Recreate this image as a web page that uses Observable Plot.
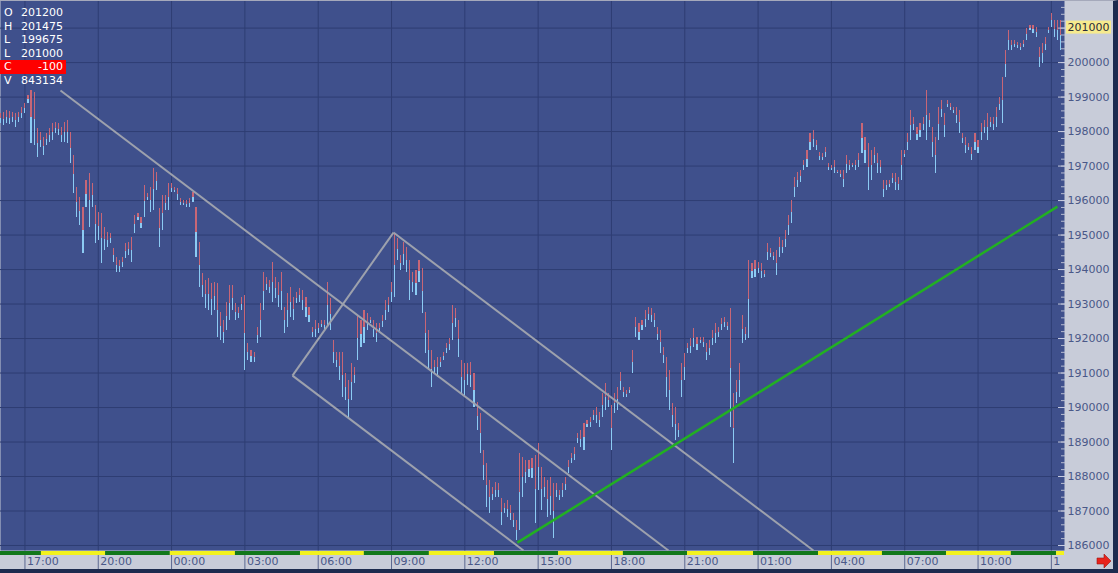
<!DOCTYPE html>
<html><head><meta charset="utf-8">
<script src="https://cdn.jsdelivr.net/npm/d3@7"></script>
<script src="https://cdn.jsdelivr.net/npm/@observablehq/plot@0.6"></script>
<style>
html,body{margin:0;padding:0;background:#1c2a4e;}
#wrap{position:relative;width:1118px;height:573px;background:#c8ccd9;overflow:hidden;font-family:"DejaVu Sans",sans-serif;}
#chart svg{display:block;}
#legend{position:absolute;left:0;top:6px;width:66px;color:#fff;font-size:11px;}
.row{position:relative;height:13.5px;line-height:13.5px;}
.row .k{position:absolute;left:4px;}
.row .v{position:absolute;right:3px;}
.row.red{background:#ff0000;}
#border{position:absolute;left:0;top:0;width:1118px;height:573px;box-sizing:border-box;border-top:1px solid #a5a9bb;border-right:5px solid #1d2b4f;border-bottom:4px solid #1d2b4f;pointer-events:none;}
</style></head>
<body>
<div id="wrap"><div id="chart"></div><div id="legend"></div><div id="border"></div></div>
<script>
// ---- data ----
const hi = [198523,198552,198610,198581,198552,198523,198552,198697,198813,199045,199190,199132,198088,197972,197827,197943,198088,198233,198262,198233,198117,198262,198320,197972,197305,196377,196087,195797,196580,196783,196493,195855,195652,195623,195217,195072,195043,194608,194347,194260,194347,194753,194782,194927,195565,195623,195507,196435,196203,196377,196928,196812,195768,196145,196145,196493,196493,196377,196348,196058,196000,196000,196058,196232,195797,194782,193883,193680,193738,193593,193622,193593,192752,192520,193042,193535,193535,193013,192897,193187,193245,191853,191650,191592,192317,193013,193912,193767,193680,194202,193767,193622,193912,192897,193303,193477,193187,193332,193448,193390,193187,192897,192317,192520,192433,192520,192520,193622,193158,191940,191592,191592,191592,190983,190780,191273,191157,192665,192520,192810,192723,192607,192520,192433,192433,192665,193100,193187,193622,195043,194898,194405,194782,194637,194260,193912,193970,194260,194028,192752,192230,191650,191360,191447,191447,191592,191853,191998,192955,192868,192520,191360,191273,191273,191302,190983,190142,189823,188750,188373,187880,187677,187822,187793,187358,187213,187300,187155,186923,186720,188663,188547,188460,188460,188518,188605,188953,188257,187967,187880,187967,187793,187793,187590,187793,187967,188460,188663,188837,189243,189330,189533,189620,189707,189910,189997,189852,190403,190693,190403,190055,190403,190577,191012,190577,190490,190577,191650,192607,192433,192520,192810,192897,192868,192723,192317,192230,191737,191447,191070,190113,189997,189533,191273,191563,191853,191998,192288,192027,192027,192027,191853,191940,192230,192433,192317,192578,192607,192462,192868,190403,190780,191273,192665,192317,194260,194173,194260,194202,194173,193970,194753,194608,194492,194550,194927,194840,195130,195565,196000,196667,196812,196870,197160,197450,197943,198030,197740,197392,197363,197537,197073,197015,197160,196870,196870,196870,197305,197160,197073,197160,197363,198233,197827,197653,197450,197537,197363,197160,196580,196580,196580,196783,196783,196667,197450,197450,197943,198610,198407,198117,198233,198407,199190,198523,198117,197827,198697,198900,198523,198900,198813,198697,198697,198610,197943,197827,197653,197537,197943,197740,198233,198320,198523,198407,198407,198697,198987,199567,200350,200930,200640,200640,200582,200553,200640,200988,201075,201075,201017,200437,200553,200727,201017,201423,201220,201220,201220];
const lo = [198233,198175,198233,198204,198262,198117,198262,198378,198523,198813,197653,197595,197247,197537,197305,197595,197682,197740,197943,197885,197682,197682,197653,197073,196203,195507,195275,194463,195797,195217,195797,194753,194840,194173,194550,194637,194753,194202,193912,193912,194057,194318,194405,194202,195043,195420,195188,195507,196000,195652,195710,196290,194637,195130,195710,195710,196232,196232,196000,195855,195855,195797,195797,195942,194347,193477,193187,192868,192810,192665,192810,192027,191940,191853,192230,192520,192810,192520,192578,192810,191070,191360,191302,191302,191853,192027,192810,193390,193303,193042,193158,192897,192810,192143,192317,192607,192520,193013,193042,192810,192607,192462,192027,192027,192143,192317,192230,192317,192230,191273,191157,190780,190287,190200,189707,190200,190693,191360,191737,191853,192230,192433,192027,191882,192143,192317,192520,192752,193042,193187,194260,193970,194115,193912,193100,193332,193245,193622,192723,191563,191070,190577,190983,190867,191157,191360,191563,191650,191940,192317,191447,190403,190287,190635,190577,189997,189330,188663,187880,187097,186923,187300,187387,187387,186575,186923,186807,186720,186517,186140,186430,187387,187793,187967,187938,186633,187590,187010,187387,186807,186865,186198,187387,187300,187387,187590,188083,188373,188460,188953,188837,188750,189417,189417,189620,189533,189417,189707,189910,189997,188750,189823,189910,190490,190287,190287,190403,190983,192027,191940,192230,192317,192520,192462,192317,191940,191563,191273,190287,189910,189417,189040,189127,190287,190780,191563,191563,191737,191650,191853,191737,191360,191505,191795,191853,192027,192230,192317,192230,189417,188373,190113,190287,191853,191940,191998,193738,193767,193883,193738,193767,194260,194347,194260,193825,194347,194463,194637,194985,195333,196087,196377,196522,196870,196957,197450,197537,197450,197160,197160,197247,196870,196870,196783,196783,196667,196377,196783,196870,196957,196870,196957,197363,197073,196290,196580,197073,196783,196783,196087,196290,196377,196493,196290,196290,196580,197247,197450,197740,198030,197740,197827,198030,197740,198117,197247,196783,197740,198407,197827,198697,198610,198523,198233,197943,197653,197363,197450,197160,197450,197363,197740,197943,197740,198117,198030,198117,198610,198233,199567,200350,200350,200437,200408,200350,200437,200640,200930,200843,200727,199857,199973,200350,200843,201017,200727,200640,200350];

const tickIdx = [8,32,56,80,104,128,152,176,200,224,248,272,296,320,344];
const tickLabels = ["17:00","20:00","00:00","03:00","06:00","09:00","12:00","15:00","18:00","21:00","01:00","04:00","07:00","10:00","1"];
const yTicks = d3.range(186000, 201001, 1000);
const yMinor = d3.range(186000, 201801, 200);
const sessionEdges = [0,13.4,34.4,55.6,76.9,98.2,119.1,140.4,161.7,182.7,203.9,224.9,246.5,267.8,288.7,309.7,330.9,345.7,348.3];
const lastPrice = 201000;
const legendKeys = ["O","H","L","L","C","V"];
const legendVals = ["201200","201475","199675","201000","-100","843134"];

// channel drawing-tool lines (bar index, price)
const channelX1 = [19.64, 128.64, 95.58, 95.58];
const channelY1 = [199190, 195072, 190925, 190925];
const channelX2 = [218.66, 266.1, 171.2, 128.64];
const channelY2 = [185855, 185855, 185855, 195072];
const trendX = [169.2, 346.0];
const trendY = [186082, 195826];

// ---- build ----
const bars = hi.map((h, i) => ({i, hi: h, lo: lo[i], mid: (h + lo[i]) / 2}));
const channels = channelX1.map((x, k) => ({x1: x, y1: channelY1[k], x2: channelX2[k], y2: channelY2[k]}));
const trend = [{x1: trendX[0], y1: trendY[0], x2: trendX[1], y2: trendY[1]}];
const labelOf = new Map(tickIdx.map((d, k) => [d, tickLabels[k]]));
const yLabelTicks = yTicks.filter(d => d !== lastPrice);
const ns = "http://www.w3.org/2000/svg";

const sessionBar = (index, scales, values, dims) => {
  const g = document.createElementNS(ns, "g");
  const y0 = dims.height - dims.marginBottom;
  for (let k = 0; k < sessionEdges.length - 1; k++) {
    const r = document.createElementNS(ns, "rect");
    const a = scales.x(sessionEdges[k]), b = scales.x(sessionEdges[k + 1]);
    r.setAttribute("x", a); r.setAttribute("width", b - a);
    r.setAttribute("y", y0 + 1); r.setAttribute("height", 4);
    r.setAttribute("fill", k % 2 ? "#f2f21e" : "#12781b");
    g.appendChild(r);
  }
  return g;
};
const priceMarker = (index, scales, values, dims) => {
  const g = document.createElementNS(ns, "g");
  const yy = scales.y(lastPrice);
  const x0 = dims.width - dims.marginRight + 2;
  const r = document.createElementNS(ns, "rect");
  r.setAttribute("x", x0); r.setAttribute("y", yy - 7); r.setAttribute("width", 45); r.setAttribute("height", 13);
  r.setAttribute("fill", "#f6ea8e");
  const t = document.createElementNS(ns, "text");
  t.setAttribute("x", x0 + 1.5); t.setAttribute("y", yy); t.setAttribute("dy", "0.35em");
  t.setAttribute("text-anchor", "start");
  t.setAttribute("font-size", 11); t.setAttribute("fill", "#2b2b38");
  t.textContent = String(lastPrice);
  g.appendChild(r); g.appendChild(t);
  return g;
};
const arrow = (index, scales, values, dims) => {
  const p = document.createElementNS(ns, "path");
  const x = dims.width - 21, y = dims.height - 12;
  p.setAttribute("d", `M${x},${y-3}h7v-4l7,7l-7,7v-4h-7z`);
  p.setAttribute("fill", "#e8231c"); p.setAttribute("stroke", "#9a1410"); p.setAttribute("stroke-width", 0.6);
  return p;
};

const chart = Plot.plot({
  width: 1118, height: 573,
  marginLeft: 0, marginRight: 54, marginTop: 0, marginBottom: 23,
  style: {fontFamily: "DejaVu Sans", fontSize: "11px", background: "transparent", overflow: "visible"},
  x: {domain: [0, 348.3], label: null},
  y: {domain: [185855, 201800], label: null},
  marks: [
    Plot.frame({fill: "#3f508c", stroke: "none"}),
    Plot.gridY(yTicks, {stroke: "#2e3d73", strokeOpacity: 1}),
    Plot.gridX(tickIdx, {stroke: "#2e3d73", strokeOpacity: 1}),
    Plot.ruleX(bars, {x: "i", y1: "hi", y2: "mid", stroke: "#c86676", strokeWidth: 1.1, shapeRendering: "crispEdges"}),
    Plot.ruleX(bars, {x: "i", y1: "mid", y2: "lo", stroke: "#8ccbf3", strokeWidth: 1.1, shapeRendering: "crispEdges"}),
    Plot.link(channels, {x1: "x1", y1: "y1", x2: "x2", y2: "y2", stroke: "#9da1ad", strokeWidth: 2}),
    Plot.link(trend, {x1: "x1", y1: "y1", x2: "x2", y2: "y2", stroke: "#22b022", strokeWidth: 2.5}),
    Plot.axisY(yMinor, {anchor: "right", tickSize: -4, fill: "none", stroke: "#b7bcd0", label: null}),
    Plot.axisY(yTicks, {anchor: "right", tickSize: -7, fill: "none", stroke: "#c9cde0", label: null}),
    Plot.axisY(yLabelTicks, {anchor: "right", tickSize: 0, tickPadding: 3, fill: "#4a5888", fontSize: 11, tickFormat: d => String(d), label: null}),
    Plot.axisX(tickIdx, {anchor: "bottom", tickSize: 19, fill: "none", stroke: "#5c6890", label: null}),
    Plot.axisX(tickIdx, {anchor: "bottom", tickSize: 0, tickPadding: 7, dx: 2, textAnchor: "start", fill: "#4a5888", fontSize: 11, tickFormat: d => labelOf.get(d), label: null}),
    sessionBar,
    priceMarker,
    arrow
  ]
});
document.getElementById("chart").appendChild(chart);

const leg = document.getElementById("legend");
legendKeys.forEach((k, j) => {
  const row = document.createElement("div");
  row.className = "row" + (k === "C" ? " red" : "");
  row.innerHTML = `<span class="k">${k}</span><span class="v">${legendVals[j]}</span>`;
  leg.appendChild(row);
});
</script>
</body></html>
